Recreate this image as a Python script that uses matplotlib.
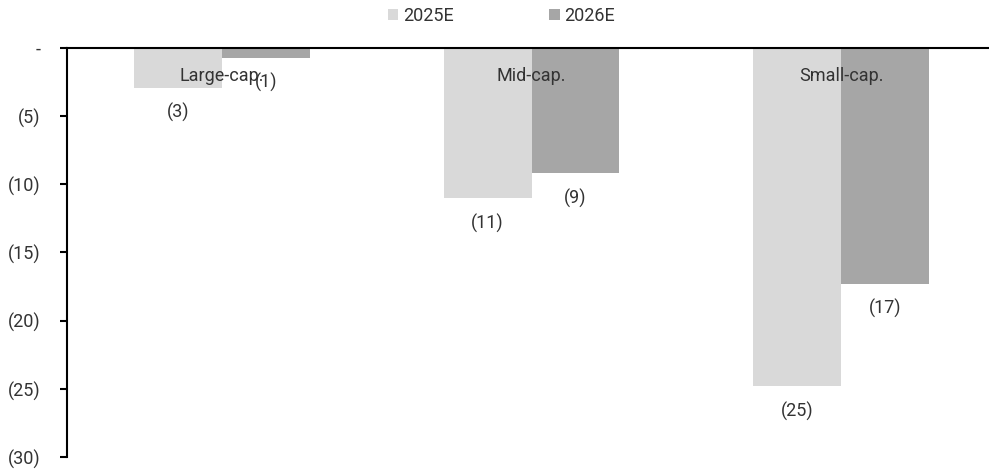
import matplotlib.pyplot as plt
import numpy as np

plt.rcParams['font.family'] = ['Roboto', 'DejaVu Sans']

categories = ['Large-cap.', 'Mid-cap.', 'Small-cap.']
series_names = ['2025E', '2026E']
values_2025 = [-2.9, -11.0, -24.8]
values_2026 = [-0.7, -9.2, -17.3]
colors = ['#d9d9d9', '#a6a6a6']
yticks = [0, -5, -10, -15, -20, -25, -30]
ytick_labels = ['-', '(5)', '(10)', '(15)', '(20)', '(25)', '(30)']

text_color = '#333333'
fs = 13

fig = plt.figure(figsize=(9.89, 4.73), dpi=100)
ax = fig.add_axes([67 / 989, 16 / 473, (996 - 67) / 989, (457 - 48) / 473])

x = np.arange(len(categories))
w = 0.284
for i, (vals, name) in enumerate(zip([values_2025, values_2026], series_names)):
    offs = (i - 0.5) * w
    ax.bar(x + offs, vals, width=w, color=colors[i], label=name, zorder=2)
    for xi, v in zip(x, vals):
        ax.annotate('(%d)' % round(abs(v)), (xi + offs, v), xytext=(0, -18),
                    textcoords='offset points', ha='center', va='center',
                    fontsize=fs, color=text_color, zorder=4)

for xi, cat in zip(x, categories):
    ax.text(xi, -2.05, cat, ha='center', va='center', fontsize=fs,
            color=text_color, zorder=3)

ax.set_xlim(-0.5, 2.5)
ax.set_ylim(-30, 0)
ax.set_xticks([])
ax.set_yticks(yticks)
ax.set_yticklabels(ytick_labels, fontsize=fs, color=text_color)
ax.tick_params(axis='y', direction='out', length=5, width=1.5, pad=14)

for side in ('right', 'bottom'):
    ax.spines[side].set_visible(False)
ax.spines['left'].set_linewidth(1.5)
ax.spines['top'].set_linewidth(1.5)
ax.spines['top'].set_zorder(5)

fig.legend(loc='center', bbox_to_anchor=(0.507, 0.966), ncol=2, frameon=False,
           fontsize=fs, handlelength=0.6, handleheight=0.6, handletextpad=0.25,
           columnspacing=5.3, labelcolor=text_color)

fig.savefig('out.png', dpi=100)
